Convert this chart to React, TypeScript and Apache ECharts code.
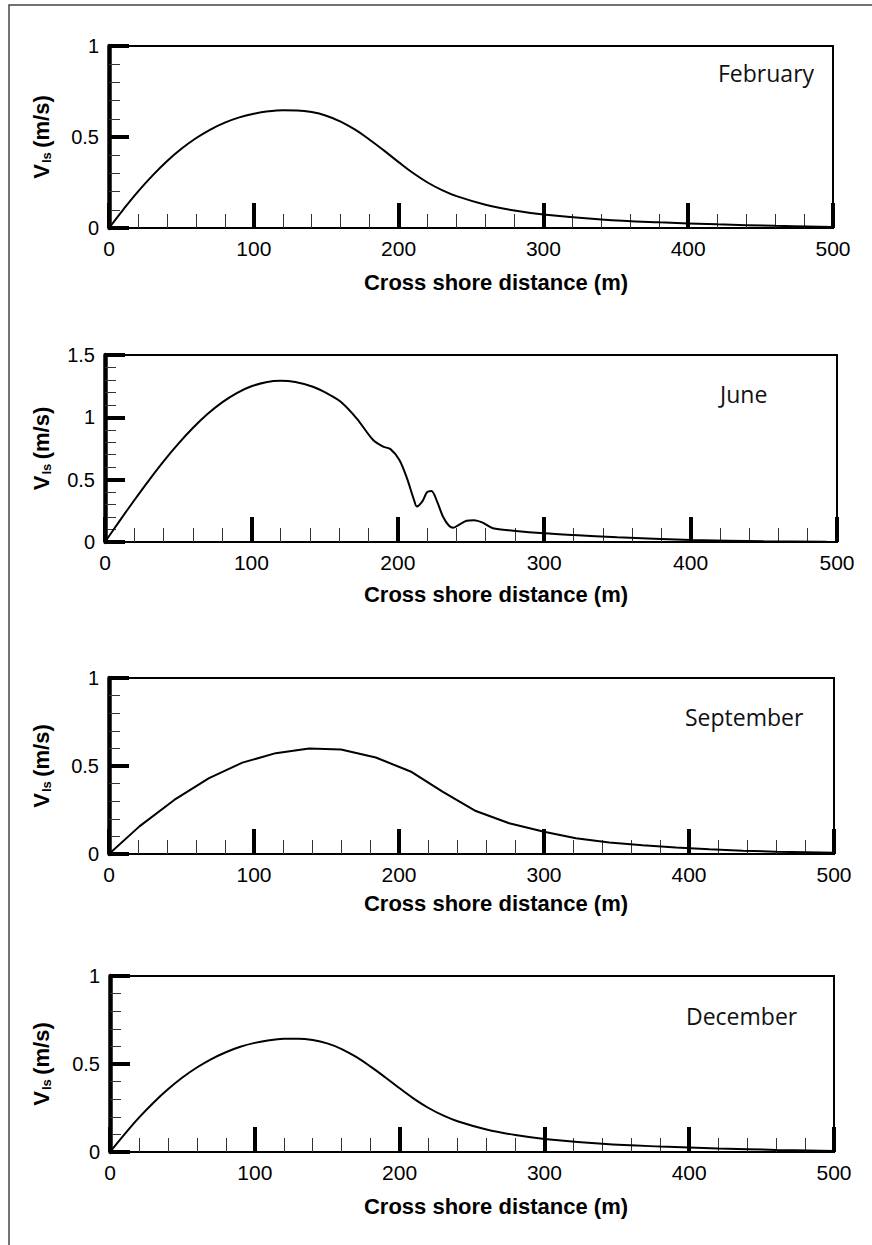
import { useEffect, useRef } from 'react';
import * as echarts from 'echarts';

// ---- data ----
const months = ['February', 'June', 'September', 'December'];
const xLabelTicks = [0, 100, 200, 300, 400, 500];
const yMaxes = [1, 1.5, 1, 1];

const xFeb = [0, 10, 20, 30, 40, 50, 60, 70, 80, 90, 100, 110, 120, 130, 140, 150, 160, 170, 180, 190, 200, 210, 220, 230, 240, 260, 280, 300, 340, 380, 420, 460, 500];
const vFeb = [0, 0.103, 0.2, 0.288, 0.367, 0.435, 0.493, 0.541, 0.579, 0.608, 0.628, 0.641, 0.647, 0.646, 0.637, 0.617, 0.585, 0.54, 0.485, 0.425, 0.362, 0.302, 0.25, 0.208, 0.175, 0.128, 0.096, 0.074, 0.047, 0.031, 0.02, 0.012, 0.006];

const xJun = [0, 10, 20, 30, 40, 50, 60, 70, 80, 90, 100, 110, 120, 130, 142, 152, 161, 172, 183, 190, 195, 201, 206, 211, 213, 217, 220, 223, 227, 231, 235, 238, 242, 247, 252, 258, 265, 279, 300, 320, 350, 400, 450, 493];
const vJun = [0, 0.17, 0.335, 0.495, 0.647, 0.787, 0.914, 1.026, 1.12, 1.195, 1.249, 1.282, 1.293, 1.283, 1.245, 1.19, 1.125, 0.99, 0.82, 0.765, 0.745, 0.66, 0.52, 0.34, 0.285, 0.33, 0.4, 0.41, 0.32, 0.2, 0.13, 0.115, 0.14, 0.17, 0.175, 0.155, 0.11, 0.091, 0.07, 0.056, 0.038, 0.016, 0.006, 0.002];

const xSep = [0, 21, 45, 69, 92, 115, 138, 160, 184, 208, 230, 253, 276, 300, 322, 345, 368, 391, 414, 437, 460, 481, 500];
const vSep = [0, 0.157, 0.307, 0.431, 0.519, 0.573, 0.6, 0.594, 0.548, 0.469, 0.354, 0.244, 0.175, 0.126, 0.09, 0.065, 0.05, 0.037, 0.027, 0.019, 0.013, 0.01, 0.007];

const xDec = [0, 10, 20, 30, 40, 50, 60, 70, 80, 90, 100, 110, 120, 130, 140, 150, 160, 170, 180, 190, 200, 210, 220, 230, 240, 260, 280, 300, 340, 380, 420, 460, 500];
const vDec = [0, 0.1, 0.195, 0.28, 0.356, 0.423, 0.48, 0.528, 0.567, 0.598, 0.62, 0.635, 0.643, 0.644, 0.636, 0.617, 0.585, 0.54, 0.485, 0.425, 0.362, 0.302, 0.25, 0.208, 0.175, 0.128, 0.096, 0.074, 0.047, 0.031, 0.02, 0.012, 0.006];

const seriesX = [xFeb, xJun, xSep, xDec];
const seriesV = [vFeb, vJun, vSep, vDec];
const smoothness = [0.4, 0.3, false, 0.4];

// ---- layout ----
const grids = [
  { left: 109, top: 46, width: 724, height: 182 },
  { left: 105, top: 355, width: 732, height: 187 },
  { left: 109, top: 678, width: 725, height: 176 },
  { left: 110, top: 976, width: 724, height: 176 },
];
const monthPos = [
  [718, 73],
  [720, 394],
  [685, 717],
  [686, 1016],
];
const titleY = [282, 594, 903, 1206];

const FONT = 'Liberation Sans, Arial, sans-serif';

export default function App() {
  const ref = useRef<HTMLDivElement>(null);
  useEffect(() => {
    if (!ref.current) return;
    const chart = echarts.init(ref.current, undefined, { renderer: 'svg' });
    const graphic: any[] = [
      {
        type: 'rect',
        shape: { x: 9, y: 5, width: 900, height: 1300 },
        style: { fill: 'none', stroke: '#444', lineWidth: 1.5 },
        silent: true,
      },
    ];
    grids.forEach((g, i) => {
      graphic.push({
        type: 'text',
        x: 496,
        y: titleY[i],
        style: {
          text: 'Cross shore distance (m)',
          font: `bold 22px ${FONT}`,
          fill: '#000',
          align: 'center',
          verticalAlign: 'middle',
        },
      });
      graphic.push({
        type: 'text',
        x: 41,
        y: g.top + g.height / 2,
        rotation: Math.PI / 2,
        style: {
          text: '{v|V}{s|ls} {v|(m/s)}',
          rich: {
            v: { fontSize: 22, fontWeight: 'bold', fontFamily: FONT, fill: '#000' },
            s: { fontSize: 13, fontWeight: 'bold', fontFamily: FONT, fill: '#000', padding: [10, 1, 0, 1] },
          },
          align: 'center',
          verticalAlign: 'middle',
        },
      });
      graphic.push({
        type: 'text',
        x: monthPos[i][0],
        y: monthPos[i][1],
        style: {
          text: months[i],
          font: `23px "Open Sans", sans-serif`,
          fill: '#111',
          align: 'left',
          verticalAlign: 'middle',
        },
      });
    });

    const option: any = {
      animation: false,
      backgroundColor: '#fff',
      grid: grids.map((g) => ({ ...g, show: true, borderColor: '#000', borderWidth: 2, backgroundColor: 'transparent' })),
      xAxis: grids.map((_, i) => ({
        type: 'value',
        gridIndex: i,
        min: xLabelTicks[0],
        max: xLabelTicks[xLabelTicks.length - 1],
        interval: 100,
        axisLine: { show: true, onZero: false, lineStyle: { color: '#000', width: 2 } },
        axisTick: { show: true, inside: true, length: 25, lineStyle: { color: '#000', width: 4 } },
        minorTick: { show: true, splitNumber: 5, length: 14, lineStyle: { color: '#333', width: 1 } },
        splitLine: { show: false },
        minorSplitLine: { show: false },
        axisLabel: { fontSize: 21, fontFamily: FONT, color: '#000', margin: 10 },
      })),
      yAxis: grids.map((_, i) => ({
        type: 'value',
        gridIndex: i,
        min: 0,
        max: yMaxes[i],
        interval: 0.5,
        axisLine: { show: true, onZero: false, lineStyle: { color: '#000', width: 4.5 } },
        axisTick: { show: true, inside: true, length: 20, lineStyle: { color: '#000', width: 4 } },
        minorTick: { show: true, splitNumber: 5, length: 11, lineStyle: { color: '#333', width: 1 } },
        splitLine: { show: false },
        minorSplitLine: { show: false },
        axisLabel: { fontSize: 20, fontFamily: FONT, color: '#000', margin: 10 },
      })),
      series: seriesX.map((xs, i) => ({
        type: 'line',
        xAxisIndex: i,
        yAxisIndex: i,
        data: xs.map((x, j) => [x, seriesV[i][j]]),
        showSymbol: false,
        smooth: smoothness[i],
        lineStyle: { color: '#000', width: 2 },
        z: 3,
      })),
      graphic,
    };
    chart.setOption(option);
    return () => chart.dispose();
  }, []);
  return (
    <div
      ref={ref}
      style={{ position: 'absolute', left: 0, top: 0, width: 872, height: 1245 }}
    />
  );
}
